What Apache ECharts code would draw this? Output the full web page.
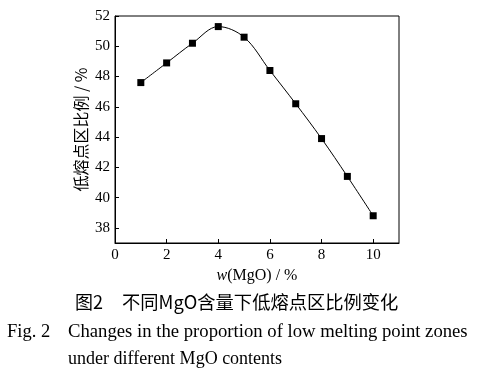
<!DOCTYPE html>
<html><head><meta charset="utf-8">
<script src="https://cdn.jsdelivr.net/npm/echarts@6/dist/echarts.min.js"></script>
<style>html,body{margin:0;padding:0;background:#fff}#c{width:477px;height:375px}</style>
</head><body><div id="c"></div>
<script>
const xValues = [1, 2, 3, 4, 5, 6, 7, 8, 9, 10];
const yValues = [47.6, 48.9, 50.2, 51.3, 50.6, 48.4, 46.2, 43.9, 41.4, 38.8];
const xTicks = [0, 2, 4, 6, 8, 10];
const yTicks = [38, 40, 42, 44, 46, 48, 50, 52];
const yName = '低熔点区比例 / %';
const captionCn1 = '图2';
const captionCn2 = '不同MgO含量下低熔点区比例变化';
const captionEn1a = 'Fig. 2';
const captionEn1b = 'Changes in the proportion of low melting point zones';
const captionEn2 = 'under different MgO contents';

const serif = '"Liberation Serif", "DejaVu Serif", serif';
const cjk = '"Noto Sans CJK SC", sans-serif';
const chart = echarts.init(document.getElementById('c'), null, {renderer: 'canvas'});
chart.setOption({
  backgroundColor: '#fff',
  animation: false,
  grid: {left: 115, right: 78, top: 16, bottom: 132, show: true, borderColor: '#000', borderWidth: 1},
  xAxis: {
    type: 'value', min: 0, max: 11, interval: 1,
    axisLine: {lineStyle: {color: '#000', width: 1}},
    axisTick: {inside: true, length: 4, lineStyle: {color: '#000'}, customValues: xTicks},
    splitLine: {show: false},
    axisLabel: {color: '#000', fontFamily: serif, fontSize: 15, margin: 5, customValues: xTicks},
    name: '{i|w}{n|(MgO) / %}', nameLocation: 'middle', nameGap: 25,
    nameTextStyle: {rich: {
      i: {fontFamily: serif, fontStyle: 'italic', fontSize: 16, color: '#000'},
      n: {fontFamily: serif, fontSize: 16, color: '#000'}
    }}
  },
  yAxis: {
    type: 'value', min: 37, max: 52, interval: 1,
    axisLine: {lineStyle: {color: '#000', width: 1}},
    axisTick: {inside: true, length: 4, lineStyle: {color: '#000'}, customValues: yTicks},
    splitLine: {show: false},
    axisLabel: {color: '#000', fontFamily: serif, fontSize: 15, margin: 5, customValues: yTicks},
    name: yName, nameLocation: 'middle', nameGap: 26, nameRotate: 90, nameMoveOverlap: false,
    nameTextStyle: {fontFamily: cjk, fontSize: 16, color: '#000'}
  },
  series: [{
    type: 'line',
    data: xValues.map((x, i) => [x, yValues[i]]),
    smooth: 0.35,
    symbol: 'rect', symbolSize: 7,
    lineStyle: {color: '#000', width: 1},
    itemStyle: {color: '#000'}
  }],
  graphic: [
    {type: 'text', x: 75, y: 302, style: {text: captionCn1, font: '18px ' + cjk, fill: '#000', verticalAlign: 'middle'}},
    {type: 'text', x: 122, y: 302, style: {text: captionCn2, font: '18.3px ' + cjk, fill: '#000', verticalAlign: 'middle'}},
    {type: 'text', x: 7, y: 332, style: {text: captionEn1a, font: '18.5px ' + serif, fill: '#000', verticalAlign: 'middle'}},
    {type: 'text', x: 68, y: 332, style: {text: captionEn1b, font: '18.7px ' + serif, fill: '#000', verticalAlign: 'middle'}},
    {type: 'text', x: 68, y: 359, style: {text: captionEn2, font: '18px ' + serif, fill: '#000', verticalAlign: 'middle'}}
  ]
});
</script></body></html>
